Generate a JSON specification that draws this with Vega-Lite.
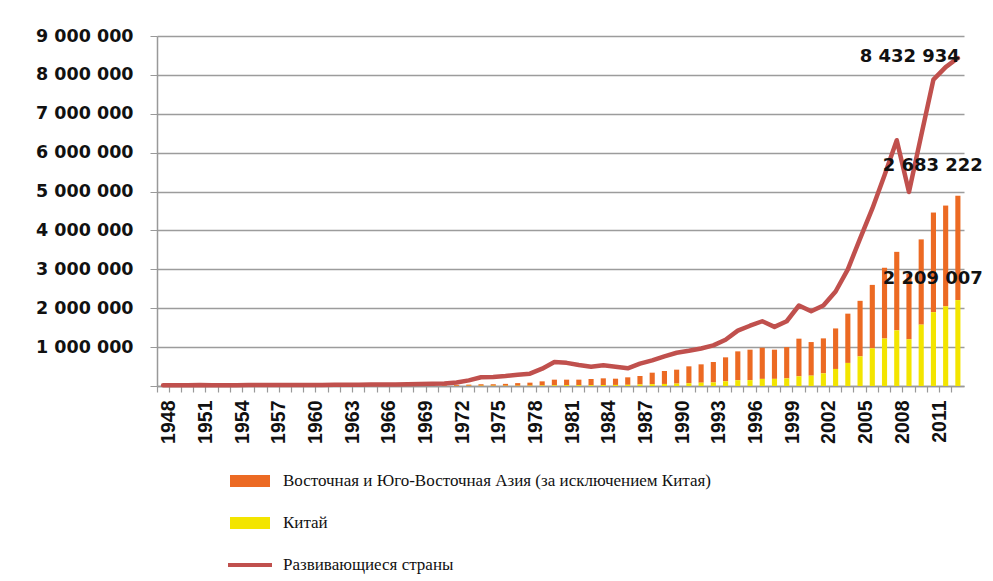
{
  "$schema": "https://vega.github.io/schema/vega-lite/v6.json",
  "autosize": {"type": "none"},
  "padding": {"left": 157, "top": 36, "right": 29, "bottom": 195},
  "width": 807,
  "height": 350,
  "background": "white",
  "config": {
    "view": {"stroke": null},
    "locale": {"number": {"decimal": ",", "thousands": " ", "grouping": [3], "currency": ["", ""]}}
  },
  "data": {"values": [
    {"year":1948,"asia":3500,"china":520,"developing":18000},
    {"year":1949,"asia":3400,"china":500,"developing":17500},
    {"year":1950,"asia":4500,"china":550,"developing":19000},
    {"year":1951,"asia":6500,"china":760,"developing":24500},
    {"year":1952,"asia":5200,"china":820,"developing":21500},
    {"year":1953,"asia":5000,"china":1020,"developing":21000},
    {"year":1954,"asia":5100,"china":1150,"developing":22000},
    {"year":1955,"asia":5600,"china":1410,"developing":23500},
    {"year":1956,"asia":5800,"china":1650,"developing":24500},
    {"year":1957,"asia":6000,"china":1600,"developing":25000},
    {"year":1958,"asia":5600,"china":1980,"developing":24000},
    {"year":1959,"asia":6200,"china":2260,"developing":25500},
    {"year":1960,"asia":6700,"china":1860,"developing":27500},
    {"year":1961,"asia":6600,"china":1490,"developing":28000},
    {"year":1962,"asia":7000,"china":1490,"developing":29000},
    {"year":1963,"asia":7800,"china":1650,"developing":32000},
    {"year":1964,"asia":8600,"china":1920,"developing":35000},
    {"year":1965,"asia":9300,"china":2230,"developing":37000},
    {"year":1966,"asia":10200,"china":2370,"developing":39500},
    {"year":1967,"asia":10800,"china":2140,"developing":40500},
    {"year":1968,"asia":12500,"china":2100,"developing":44000},
    {"year":1969,"asia":14500,"china":2200,"developing":49000},
    {"year":1970,"asia":16500,"china":2260,"developing":56000},
    {"year":1971,"asia":19000,"china":2640,"developing":66000},
    {"year":1972,"asia":24000,"china":3440,"developing":90000},
    {"year":1973,"asia":29000,"china":5820,"developing":145000},
    {"year":1974,"asia":38000,"china":7110,"developing":225000},
    {"year":1975,"asia":38000,"china":7260,"developing":231000},
    {"year":1976,"asia":48000,"china":6860,"developing":257000},
    {"year":1977,"asia":67000,"china":7590,"developing":291000},
    {"year":1978,"asia":76000,"china":9750,"developing":317000},
    {"year":1979,"asia":106000,"china":13660,"developing":446000},
    {"year":1980,"asia":145000,"china":18100,"developing":615000},
    {"year":1981,"asia":141000,"china":22010,"developing":595000},
    {"year":1982,"asia":141000,"china":22320,"developing":540000},
    {"year":1983,"asia":158000,"china":22230,"developing":497000},
    {"year":1984,"asia":171000,"china":26140,"developing":531000},
    {"year":1985,"asia":161000,"china":27350,"developing":497000},
    {"year":1986,"asia":192000,"china":30940,"developing":454000},
    {"year":1987,"asia":218000,"china":39440,"developing":574000},
    {"year":1988,"asia":295000,"china":47520,"developing":660000},
    {"year":1989,"asia":333000,"china":52540,"developing":763000},
    {"year":1990,"asia":358000,"china":62090,"developing":855000},
    {"year":1991,"asia":434000,"china":71840,"developing":905000},
    {"year":1992,"asia":472000,"china":84940,"developing":965000},
    {"year":1993,"asia":525000,"china":91740,"developing":1045000},
    {"year":1994,"asia":616000,"china":121010,"developing":1190000},
    {"year":1995,"asia":742000,"china":148780,"developing":1425000},
    {"year":1996,"asia":783000,"china":151050,"developing":1550000},
    {"year":1997,"asia":802000,"china":182790,"developing":1665000},
    {"year":1998,"asia":750000,"china":183710,"developing":1520000},
    {"year":1999,"asia":805000,"china":194930,"developing":1665000},
    {"year":2000,"asia":968000,"china":249200,"developing":2070000},
    {"year":2001,"asia":864000,"china":266100,"developing":1920000},
    {"year":2002,"asia":899000,"china":325600,"developing":2070000},
    {"year":2003,"asia":1042000,"china":438230,"developing":2430000},
    {"year":2004,"asia":1267000,"china":593330,"developing":3000000},
    {"year":2005,"asia":1428000,"china":761950,"developing":3790000},
    {"year":2006,"asia":1631000,"china":968980,"developing":4560000},
    {"year":2007,"asia":1820000,"china":1220460,"developing":5420000},
    {"year":2008,"asia":2019000,"china":1430690,"developing":6320000},
    {"year":2009,"asia":1678000,"china":1201610,"developing":4990000},
    {"year":2010,"asia":2192000,"china":1577750,"developing":6440000},
    {"year":2011,"asia":2562000,"china":1898380,"developing":7880000},
    {"year":2012,"asia":2591000,"china":2048710,"developing":8200000},
    {"year":2013,"asia":2683222,"china":2209007,"developing":8432934}
  ]},
  "transform": [{"fold": ["asia", "china", "developing"], "as": ["series", "value"]}],
  "encoding": {
    "x": {
      "field": "year", "type": "ordinal",
      "scale": {"paddingInner": 0, "paddingOuter": 0},
      "axis": {
        "title": null, "labelAngle": -90, "bandPosition": 0, "labelOffset": 6.1,
        "labelExpr": "(datum.value - 1948) % 3 == 0 ? datum.label : ''",
        "labelOverlap": false,
        "labelFont": "Liberation Sans", "labelFontWeight": "bold", "labelFontSize": 19.5, "labelColor": "#111",
        "labelPadding": 8, "tickSize": 6, "tickColor": "#999", "tickWidth": 1.2,
        "domainColor": "#999", "domainWidth": 1.5, "grid": false
      }
    },
    "y": {
      "field": "value", "type": "quantitative",
      "scale": {"domain": [0, 9000000], "nice": false},
      "axis": {
        "title": null, "values": [0,1000000,2000000,3000000,4000000,5000000,6000000,7000000,8000000,9000000],
        "labelOverlap": false,
        "labelExpr": "datum.value == 0 ? '' : format(datum.value, ',d')",
        "labelFont": "DejaVu Sans", "labelFontWeight": "bold", "labelFontSize": 17.5, "labelColor": "#111",
        "labelPadding": 17, "tickSize": 7, "tickColor": "#999", "domainColor": "#999", "domainWidth": 1.5,
        "grid": true, "gridColor": "#9c9c9c", "gridWidth": 1.6
      }
    }
  },
  "layer": [
    {
      "transform": [{"filter": "datum.series != 'developing'"}],
      "mark": {"type": "bar", "width": {"band": 0.42}},
      "encoding": {
        "color": {
          "field": "series", "type": "nominal",
          "scale": {"domain": ["asia", "china", "developing"], "range": ["#EC6A23", "#F3E500", "#C0504D"]},
          "legend": {
            "orient": "none", "legendX": 73, "legendY": 425, "direction": "vertical", "title": null,
            "padding": 0, "symbolSize": 1600, "rowPadding": 14, "labelOffset": 13, "labelLimit": 700,
            "labelFont": "Times New Roman, Liberation Serif, serif", "labelFontSize": 17, "labelColor": "#111",
            "symbolStrokeWidth": 0,
            "labelExpr": "datum.value == 'asia' ? 'Восточная и Юго-Восточная Азия (за исключением Китая)' : datum.value == 'china' ? 'Китай' : 'Развивающиеся страны'",
            "encode": {
              "symbols": {"update": {
                "shape": {"signal": "datum.value == 'developing' ? 'M-1.1,-0.1H1.1V0.1H-1.1Z' : 'M-1,-0.3H1V0.3H-1Z'"}
              }}
            }
          }
        },
        "order": {"field": "series", "sort": "descending"}
      }
    },
    {
      "transform": [{"filter": "datum.series == 'developing'"}],
      "mark": {"type": "line", "color": "#C0504D", "strokeWidth": 4.5, "strokeCap": "round", "strokeJoin": "round"}
    },
    {
      "transform": [{"filter": "datum.series == 'developing' && datum.year == 2013"}],
      "mark": {"type": "text", "align": "right", "baseline": "middle", "dx": 2, "dy": -1, "font": "DejaVu Sans", "fontWeight": "bold", "fontSize": 18, "color": "#111"},
      "encoding": {
        "text": {"field": "developing", "type": "quantitative", "format": ",d"}
      }
    },
    {
      "transform": [
        {"filter": "datum.series != 'developing' && datum.year == 2013"},
        {"stack": "value", "groupby": ["year"], "sort": [{"field": "series", "order": "descending"}], "as": ["v0", "value"]},
        {"filter": "datum.series == 'asia'"}
      ],
      "mark": {"type": "text", "align": "right", "baseline": "middle", "dx": 25, "dy": -30, "font": "DejaVu Sans", "fontWeight": "bold", "fontSize": 18, "color": "#111"},
      "encoding": {
        "text": {"field": "asia", "type": "quantitative", "format": ",d"}
      }
    },
    {
      "transform": [
        {"filter": "datum.series != 'developing' && datum.year == 2013"},
        {"stack": "value", "groupby": ["year"], "sort": [{"field": "series", "order": "descending"}], "as": ["v0", "value"]},
        {"filter": "datum.series == 'china'"}
      ],
      "mark": {"type": "text", "align": "right", "baseline": "middle", "dx": 25, "dy": -21, "font": "DejaVu Sans", "fontWeight": "bold", "fontSize": 18, "color": "#111"},
      "encoding": {
        "text": {"field": "china", "type": "quantitative", "format": ",d"}
      }
    }
  ]
}
